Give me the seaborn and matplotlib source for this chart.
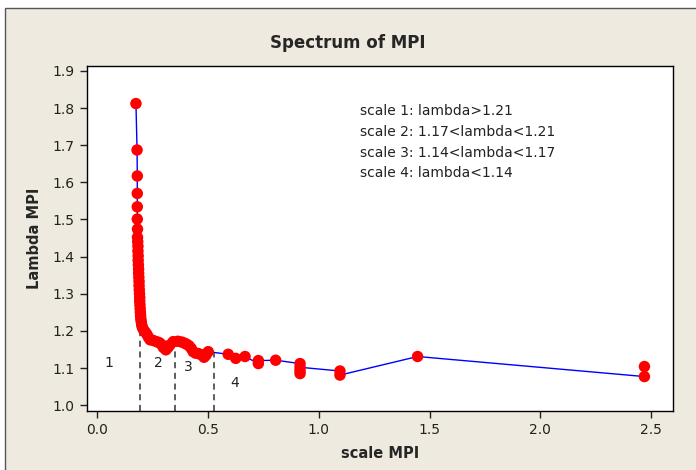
import numpy as np
import pandas as pd
import matplotlib
matplotlib.use("Agg")
import matplotlib.pyplot as plt
from matplotlib.patches import Rectangle
import seaborn as sns

# values
scale_mpi = [0.176, 0.181, 0.182, 0.182, 0.182, 0.182, 0.183, 0.183, 0.184, 0.185,
             0.185, 0.186, 0.186, 0.187, 0.188, 0.188, 0.189, 0.190, 0.190, 0.191,
             0.192, 0.193, 0.193, 0.194, 0.195, 0.196, 0.197, 0.198, 0.200, 0.202,
             0.205, 0.210, 0.218, 0.226, 0.233, 0.240, 0.255, 0.269, 0.282, 0.292,
             0.300, 0.311, 0.320, 0.329, 0.344, 0.365, 0.382, 0.395, 0.405, 0.415,
             0.425, 0.434, 0.445, 0.457, 0.470, 0.483, 0.492, 0.502, 0.592, 0.626,
             0.668, 0.728, 0.728, 0.806, 0.916, 0.916, 0.916, 0.916, 1.096, 1.096,
             1.446, 2.469, 2.469]
lambda_mpi = [1.812, 1.687, 1.617, 1.570, 1.534, 1.501, 1.474, 1.452, 1.440, 1.428,
              1.415, 1.402, 1.390, 1.378, 1.366, 1.355, 1.344, 1.333, 1.322, 1.311,
              1.300, 1.290, 1.280, 1.270, 1.260, 1.250, 1.241, 1.232, 1.224, 1.216,
              1.209, 1.203, 1.197, 1.190, 1.182, 1.176, 1.174, 1.171, 1.168, 1.163,
              1.155, 1.149, 1.155, 1.162, 1.171, 1.172, 1.170, 1.167, 1.164, 1.160,
              1.153, 1.144, 1.140, 1.139, 1.136, 1.129, 1.135, 1.144, 1.137, 1.126,
              1.131, 1.112, 1.120, 1.121, 1.112, 1.093, 1.085, 1.102, 1.092, 1.081,
              1.131, 1.077, 1.104]

# scale boundaries (dashed lines) and where they stop on the curve
cut_x = [0.196, 0.352, 0.526]
cut_top = [1.216, 1.171, 1.144]

region_labels = ["1", "2", "3", "4"]
region_x = [0.054, 0.275, 0.41, 0.622]
region_y = [1.113, 1.113, 1.103, 1.06]

legend_lines = ["scale 1: lambda>1.21",
                "scale 2: 1.17<lambda<1.21",
                "scale 3: 1.14<lambda<1.17",
                "scale 4: lambda<1.14"]

df = pd.DataFrame({"scale": scale_mpi, "lam": lambda_mpi})

sns.set_style("ticks")
plt.rcParams["font.family"] = ["DejaVu Sans"]

fig = plt.figure(figsize=(6.96, 4.70), dpi=100, facecolor="white")
# beige panel with the thin frame at top / left
fig.patches.append(Rectangle((5 / 696, -0.05), 1.2, 1 - 8 / 470 + 0.05,
                             transform=fig.transFigure, facecolor="#EEEAE0",
                             edgecolor="#555555", linewidth=1.0, zorder=-10))

ax = fig.add_axes([0.1246, 0.1245, 0.8424, 0.735])
ax.set_facecolor("white")

sns.lineplot(data=df, x="scale", y="lam", sort=False, estimator=None,
             errorbar=None, color="#0000FF", linewidth=1.0, ax=ax, zorder=2)
sns.scatterplot(data=df, x="scale", y="lam", color="#FF0000", s=68,
                edgecolor="none", ax=ax, zorder=3)

for cx, ct in zip(cut_x, cut_top):
    ax.plot([cx, cx], [0.983, ct], color="#333333", linestyle=(0, (4, 3)),
            linewidth=1.1, zorder=1)

for lab, lx, ly in zip(region_labels, region_x, region_y):
    ax.text(lx, ly, lab, fontsize=10, ha="center", va="center", color="#222222")

for i, line in enumerate(legend_lines):
    ax.text(1.186, 1.791 - i * 0.0555, line, fontsize=10, ha="left",
            va="center", color="#222222")

ax.set_xlim(-0.046, 2.598)
ax.set_ylim(0.983, 1.913)
ax.set_xticks([0.0, 0.5, 1.0, 1.5, 2.0, 2.5])
ax.set_xticklabels(["0.0", "0.5", "1.0", "1.5", "2.0", "2.5"])
ax.set_yticks(np.round(np.arange(1.0, 1.95, 0.1), 1))
ax.set_yticklabels([f"{v:.1f}" for v in np.arange(1.0, 1.95, 0.1)])
ax.tick_params(direction="out", length=5, width=1, labelsize=10,
               colors="#222222")
for sp in ax.spines.values():
    sp.set_color("black")
    sp.set_linewidth(1.0)
    sp.set_visible(True)

ax.set_xlabel("scale MPI", fontsize=10.5, fontweight="bold", labelpad=6)
ax.set_ylabel("Lambda MPI", fontsize=10.5, fontweight="bold", labelpad=8)
fig.text(0.5, 1 - 43 / 470, "Spectrum of MPI", fontsize=12, fontweight="bold",
         ha="center", va="center")

fig.savefig("out.png", dpi=100, facecolor=fig.get_facecolor())
